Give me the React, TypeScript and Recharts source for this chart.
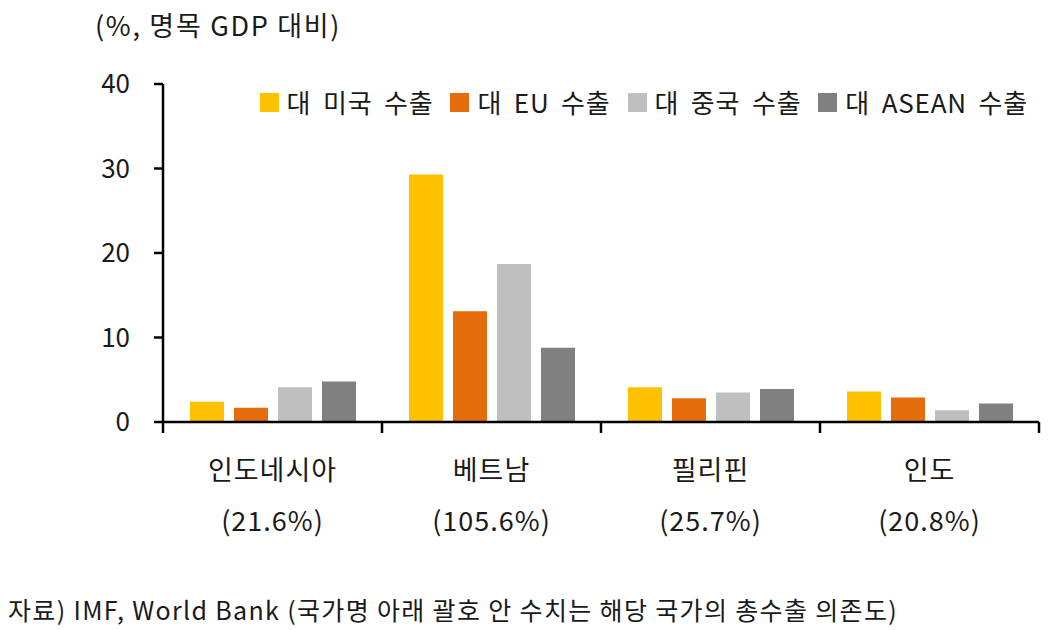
import { BarChart, Bar, XAxis, YAxis } from "recharts";

const countries = ["인도네시아", "베트남", "필리핀", "인도"];
const dependence = ["(21.6%)", "(105.6%)", "(25.7%)", "(20.8%)"];

const toUS = [2.4, 29.3, 4.1, 3.6];
const toEU = [1.7, 13.1, 2.8, 2.9];
const toChina = [4.1, 18.7, 3.5, 1.4];
const toASEAN = [4.8, 8.8, 3.9, 2.2];

const yTicks = [0, 10, 20, 30, 40];

const series = [
  { key: "us", name: "대 미국 수출", color: "#FFC000", values: toUS },
  { key: "eu", name: "대 EU 수출", color: "#E46C0A", values: toEU },
  { key: "cn", name: "대 중국 수출", color: "#BFBFBF", values: toChina },
  { key: "asean", name: "대 ASEAN 수출", color: "#808080", values: toASEAN },
];

const data = countries.map((c, i) => {
  const row: Record<string, string | number> = { name: c, dep: dependence[i] };
  series.forEach((s) => (row[s.key] = s.values[i]));
  return row;
});

const FONT = "'Noto Sans CJK KR', 'Noto Sans', sans-serif";
const INK = "#1a1a1a";

const WIDTH = 1050;
const HEIGHT = 560;
const LEFT = 163;
const RIGHT = 11;
const TOP = 84;
const BOTTOM_AXIS = 138;
const halfBand = (WIDTH - LEFT - RIGHT) / countries.length / 2;

const CategoryTick = (props: any) => {
  const { x, y, payload, index } = props;
  const i = countries.indexOf(payload.value);
  return (
    <g>
      <line x1={x - halfBand} y1={y - 8} x2={x - halfBand} y2={y + 3} stroke="#000" strokeWidth={2.5} />
      {index === countries.length - 1 && (
        <line x1={x + halfBand} y1={y - 8} x2={x + halfBand} y2={y + 3} stroke="#000" strokeWidth={2.5} />
      )}
      <text x={x} y={y + 50} textAnchor="middle" fontSize={27} letterSpacing={1} fill={INK} fontFamily={FONT}>
        {payload.value}
      </text>
      <text x={x} y={y + 101} textAnchor="middle" fontSize={27} letterSpacing={1} fill={INK} fontFamily={FONT}>
        {dependence[i]}
      </text>
    </g>
  );
};

export default function App() {
  return (
    <div
      style={{
        position: "absolute",
        left: 0,
        top: 0,
        width: 1050,
        height: 630,
        background: "#fff",
        fontFamily: FONT,
        color: INK,
      }}
    >
      {/* unit label */}
      <div style={{ position: "absolute", left: 95, top: 7, fontSize: 27, letterSpacing: 1.7, lineHeight: "36px" }}>
        (%, 명목 GDP 대비)
      </div>

      {/* legend */}
      <div
        style={{
          position: "absolute",
          right: 22,
          top: 84,
          display: "flex",
          gap: 17,
          fontSize: 26,
          letterSpacing: 0.8,
          wordSpacing: 5,
          lineHeight: "36px",
          whiteSpace: "nowrap",
        }}
      >
        {series.map((s) => (
          <div key={s.key} style={{ display: "flex", alignItems: "center", gap: 8 }}>
            <span style={{ width: 19, height: 19, background: s.color, display: "inline-block" }} />
            <span>{s.name}</span>
          </div>
        ))}
      </div>

      <BarChart
        width={WIDTH}
        height={HEIGHT}
        data={data}
        margin={{ top: TOP, right: RIGHT, bottom: 0, left: 0 }}
        barCategoryGap="12%"
        barGap={10}
        style={{ position: "absolute", left: 0, top: 0 }}
      >
        <XAxis
          dataKey="name"
          height={BOTTOM_AXIS}
          axisLine={{ stroke: "#000", strokeWidth: 2.5 }}
          tickLine={false}
          tick={<CategoryTick />}
          interval={0}
        />
        <YAxis
          width={LEFT}
          domain={[0, 40]}
          ticks={yTicks}
          axisLine={{ stroke: "#000", strokeWidth: 2.5 }}
          tickLine={{ stroke: "#000", strokeWidth: 2.5 }}
          tickSize={9}
          tickMargin={24}
          tick={{ fontSize: 26, fill: INK, fontFamily: FONT }}
        />
        {series.map((s) => (
          <Bar key={s.key} dataKey={s.key} name={s.name} fill={s.color} barSize={34} isAnimationActive={false} />
        ))}
      </BarChart>

      {/* source note */}
      <div
        style={{
          position: "absolute",
          left: 8,
          top: 591,
          fontSize: 25,
          letterSpacing: 1.35,
          lineHeight: "36px",
          whiteSpace: "nowrap",
        }}
      >
        자료) IMF, World Bank (국가명 아래 괄호 안 수치는 해당 국가의 총수출 의존도)
      </div>
    </div>
  );
}
